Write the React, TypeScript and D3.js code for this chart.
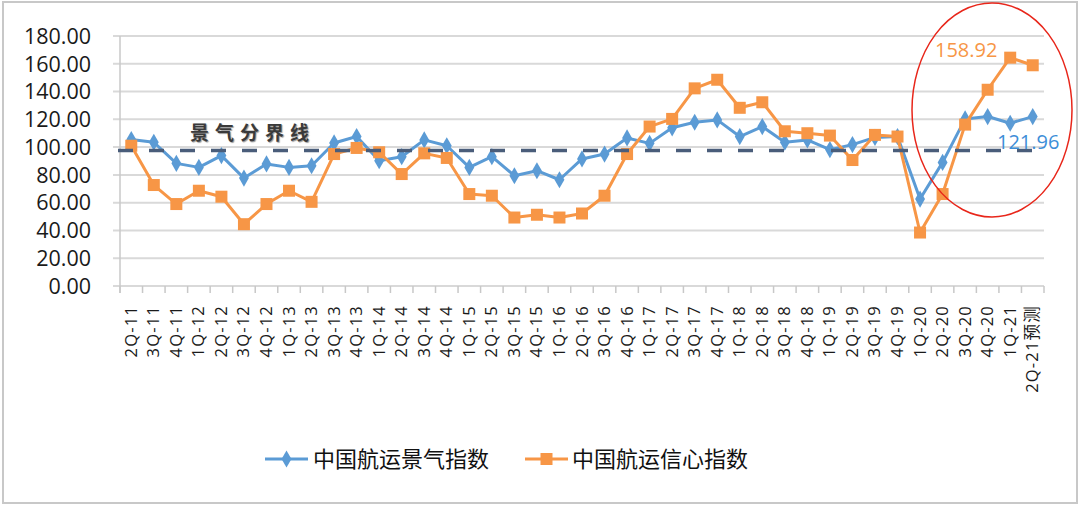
import React from "react";
import * as d3 from "d3";

const categories = [
  "2Q-11","3Q-11","4Q-11","1Q-12","2Q-12","3Q-12","4Q-12","1Q-13","2Q-13","3Q-13","4Q-13",
  "1Q-14","2Q-14","3Q-14","4Q-14","1Q-15","2Q-15","3Q-15","4Q-15","1Q-16","2Q-16","3Q-16","4Q-16",
  "1Q-17","2Q-17","3Q-17","4Q-17","1Q-18","2Q-18","3Q-18","4Q-18","1Q-19","2Q-19","3Q-19","4Q-19",
  "1Q-20","2Q-20","3Q-20","4Q-20","1Q-21","2Q-21预测",
];

const prosperityIndex = [
  105.4, 103.5, 88.3, 85.4, 93.9, 77.7, 87.9, 85.4, 86.6, 103, 107.6,
  90.2, 93.1, 105.2, 101, 85.4, 93.1, 79.4, 83, 76.5, 91.5, 95, 106.6,
  102.7, 113.9, 117.9, 119.6, 107.6, 114.8, 103.5, 105.2, 98.2, 101.8, 107, 107.6,
  62.6, 89, 120.3, 122, 117.2, 121.96,
];

const confidenceIndex = [
  101, 72.7, 59, 68.6, 64.3, 44.5, 59, 68.6, 60.6, 95, 99.4,
  96.3, 80.6, 95.5, 92.2, 66.2, 65, 49.3, 51.3, 49.3, 52.2, 65, 95,
  114.8, 120.3, 142.3, 148.5, 128.3, 132.3, 111.4, 110, 108.3, 90.7, 108.8, 107.6,
  38.5, 66.2, 116.2, 141.3, 164.4, 158.92,
];

const yTicks = [0, 20, 40, 60, 80, 100, 120, 140, 160, 180];
const boundaryValue = 97.5;
const seriesNames = ["中国航运景气指数", "中国航运信心指数"];

const BLUE = "#5b9bd5";
const ORANGE = "#f79646";

export default function App() {
  const x = d3.scaleBand<string>().domain(categories).range([120, 1044]).padding(0);
  const y = d3.scaleLinear().domain([0, 180]).range([286, 36]);
  const cx = (c: string) => (x(c) as number) + x.bandwidth() / 2;

  const line = d3
    .line<number>()
    .x((_, i) => cx(categories[i]))
    .y((d) => y(d));

  const diamond = d3.symbol().type(d3.symbolDiamond).size(85)() as string;
  const boundaries = d3.range(categories.length + 1).map((i) => 120 + i * x.bandwidth());
  const last = categories.length - 1;

  const font = "'Open Sans', 'Noto Sans CJK SC', sans-serif";
  const cjk = "'Noto Sans CJK SC', sans-serif";

  return (
    <svg
      width={1080}
      height={507}
      style={{ position: "absolute", left: 0, top: 0, background: "#fff" }}
      fontFamily={font}
    >
      <rect x={3} y={2} width={1074} height={501} fill="#fff" stroke="#c8c8c8" strokeWidth={2} />

      {/* gridlines */}
      {yTicks.map((t) => (
        <line key={t} x1={113} x2={1044} y1={y(t)} y2={y(t)} stroke="#d9d9d9" strokeWidth={2} />
      ))}
      {/* y axis */}
      <line x1={120} x2={120} y1={y(180)} y2={y(0) + 7} stroke="#c8c8c8" strokeWidth={1.5} />
      {yTicks.map((t) => (
        <text key={t} x={91} y={y(t)} dy="0.36em" textAnchor="end" fontSize={21.5} fill="#1a1a1a">
          {t.toFixed(2)}
        </text>
      ))}
      {/* x axis ticks */}
      {boundaries.map((b, i) => (
        <line key={i} x1={b} x2={b} y1={y(0)} y2={y(0) + 7} stroke="#c8c8c8" strokeWidth={1.5} />
      ))}
      {categories.map((c) => (
        <text
          key={c}
          transform={`translate(${cx(c) + 5.5},305) rotate(-90)`}
          textAnchor="end"
          fontSize={16.5}
          letterSpacing={1.2}
          fill="#1a1a1a"
        >
          {c}
        </text>
      ))}

      {/* series */}
      <path d={line(prosperityIndex) as string} fill="none" stroke={BLUE} strokeWidth={3} strokeLinejoin="round" />
      {prosperityIndex.map((v, i) => (
        <path key={i} d={diamond} transform={`translate(${cx(categories[i])},${y(v)})`} fill={BLUE} />
      ))}
      <path d={line(confidenceIndex) as string} fill="none" stroke={ORANGE} strokeWidth={3} strokeLinejoin="round" />
      {confidenceIndex.map((v, i) => (
        <rect key={i} x={cx(categories[i]) - 6} y={y(v) - 6} width={12} height={12} fill={ORANGE} />
      ))}

      {/* boundary */}
      <line
        x1={118}
        x2={1032}
        y1={y(boundaryValue)}
        y2={y(boundaryValue)}
        stroke="#4a5d7a"
        strokeWidth={3.5}
        strokeDasharray="15,16"
      />
      <text
        x={190}
        y={140}
        fontSize={19}
        fontWeight="bold"
        letterSpacing={6}
        fill="#3a3a3a"
        fontFamily={cjk}
        style={{ textShadow: "1px 1px 1px #999" }}
      >
        景气分界线
      </text>

      {/* annotations */}
      <text x={935} y={57} fontSize={20} fill={ORANGE}>
        {confidenceIndex[last].toFixed(2)}
      </text>
      <text x={997} y={149} fontSize={20} fill="#3d8ed8">
        {prosperityIndex[last].toFixed(2)}
      </text>
      <ellipse cx={992} cy={110} rx={80} ry={107} fill="none" stroke="#e8261a" strokeWidth={1.5} />

      {/* legend */}
      <line x1={265} x2={308} y1={459} y2={459} stroke={BLUE} strokeWidth={3} />
      <path d={diamond} transform="translate(286.5,459)" fill={BLUE} />
      <text x={313} y={459} dy="0.36em" fontSize={22} fill="#111" fontFamily={cjk}>
        {seriesNames[0]}
      </text>
      <line x1={525} x2={568} y1={459} y2={459} stroke={ORANGE} strokeWidth={3} />
      <rect x={540.5} y={453} width={12} height={12} fill={ORANGE} />
      <text x={572} y={459} dy="0.36em" fontSize={22} fill="#111" fontFamily={cjk}>
        {seriesNames[1]}
      </text>
    </svg>
  );
}
